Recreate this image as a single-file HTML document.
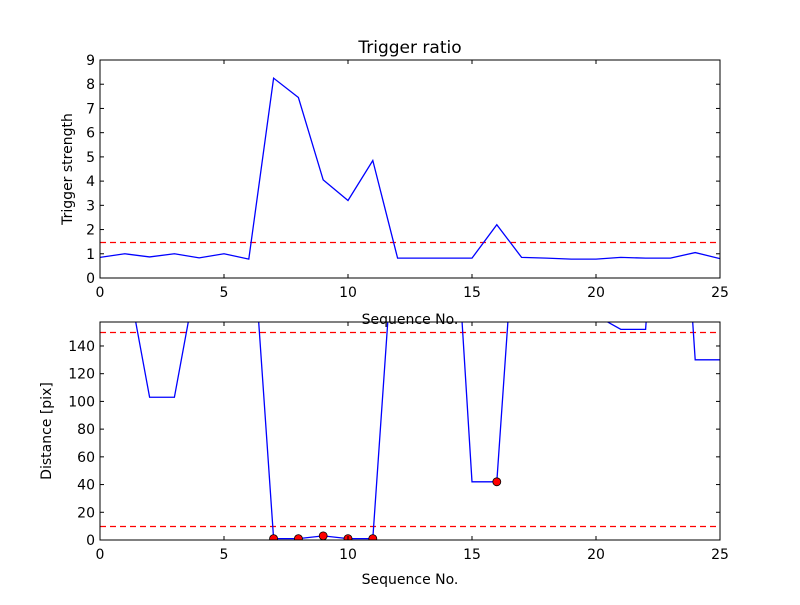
<!DOCTYPE html>
<html><head><meta charset="utf-8"><style>
body{margin:0;background:#fff}
svg{font-family:"DejaVu Sans","Liberation Sans",sans-serif}
</style></head><body>
<svg id="c" width="800" height="600" viewBox="0 0 800 600">
<rect width="800" height="600" fill="#fff"/>
<text x="410" y="53" font-size="17" text-anchor="middle">Trigger ratio</text>
<text x="410" y="324" font-size="14" text-anchor="middle">Sequence No.</text>
<text x="410" y="584" font-size="14" text-anchor="middle">Sequence No.</text>
<text transform="translate(72,169) rotate(-90)" font-size="14" text-anchor="middle">Trigger strength</text>
<text transform="translate(51,431) rotate(-90)" font-size="14" text-anchor="middle">Distance [pix]</text>
</svg>
<script>
const seqX=[0,1,2,3,4,5,6,7,8,9,10,11,12,13,14,15,16,17,18,19,20,21,22,23,24,25];
const triggerStrength=[0.85,1.0,0.87,1.0,0.83,1.0,0.78,8.25,7.45,4.05,3.2,4.85,0.82,0.82,0.82,0.82,2.2,0.85,0.82,0.78,0.78,0.85,0.82,0.82,1.05,0.8];
const triggerThreshold=1.5;
const distance=[300,200,103,103,200,260,261,1,1,3,1,1,260,300,330,42,42,300,300,300,162,152,152,400,130,130];
const distThresholds=[150,10];
const markedIdx=[7,8,9,10,11,16];
const xTicks=[0,5,10,15,20,25];
const topYTicks=[0,1,2,3,4,5,6,7,8,9];
const botYTicks=[0,20,40,60,80,100,120,140];

const NS="http://www.w3.org/2000/svg",svg=document.getElementById('c');
function mk(t,a,p){const e=document.createElementNS(NS,t);for(const k in a)e.setAttribute(k,a[k]);(p||svg).appendChild(e);return e;}
function panel(top,bot,ymax,yticks,vals,ths,marks,pname){
  const L=100,R=720;
  const sx=v=>L+(v-0)/25*(R-L), sy=v=>bot-v/ymax*(bot-top);
  const cid='clip-'+pname;
  const cp=mk('clipPath',{id:cid});mk('rect',{x:L,y:top,width:R-L,height:bot-top},cp);
  const g=mk('g',{'clip-path':'url(#'+cid+')'});
  ths.forEach((t,i)=>{const yy=Math.round(sy(t))+0.5;const l=mk('line',{x1:L,x2:R,y1:yy,y2:yy,stroke:'#f00','stroke-width':1.2,'stroke-dasharray':'6,4'},g);
    
    });
  const p=mk('polyline',{points:seqX.map((x,i)=>sx(x)+','+sy(vals[i])).join(' '),fill:'none',stroke:'#00f','stroke-width':1.3},g);
  
  
  marks.forEach(i=>{const c=mk('circle',{cx:sx(seqX[i]),cy:sy(vals[i]),r:4,fill:'#f00',stroke:'#000','stroke-width':0.8},g);
    
    });
  const f=mk('rect',{x:L,y:top,width:R-L,height:bot-top,fill:'none',stroke:'#000','stroke-width':1});
  
  
  xTicks.forEach(v=>{const x=sx(v);mk('line',{x1:x,x2:x,y1:bot,y2:bot-4,stroke:'#000'});mk('line',{x1:x,x2:x,y1:top,y2:top+4,stroke:'#000'});
    const t=mk('text',{x:x,y:bot+19,'font-size':14,'text-anchor':'middle'});t.textContent=v;
    
    });
  yticks.forEach(v=>{const y=sy(v);mk('line',{x1:L,x2:L+4,y1:y,y2:y,stroke:'#000'});mk('line',{x1:R,x2:R-4,y1:y,y2:y,stroke:'#000'});
    const t=mk('text',{x:L-5,y:y+5,'font-size':14,'text-anchor':'end'});t.textContent=v;
    
    });
}
panel(60,278,9,topYTicks,triggerStrength,[triggerThreshold],[],'top');
panel(322,540,157.3,botYTicks,distance,distThresholds,markedIdx,'bottom');
</script>
</body></html>
